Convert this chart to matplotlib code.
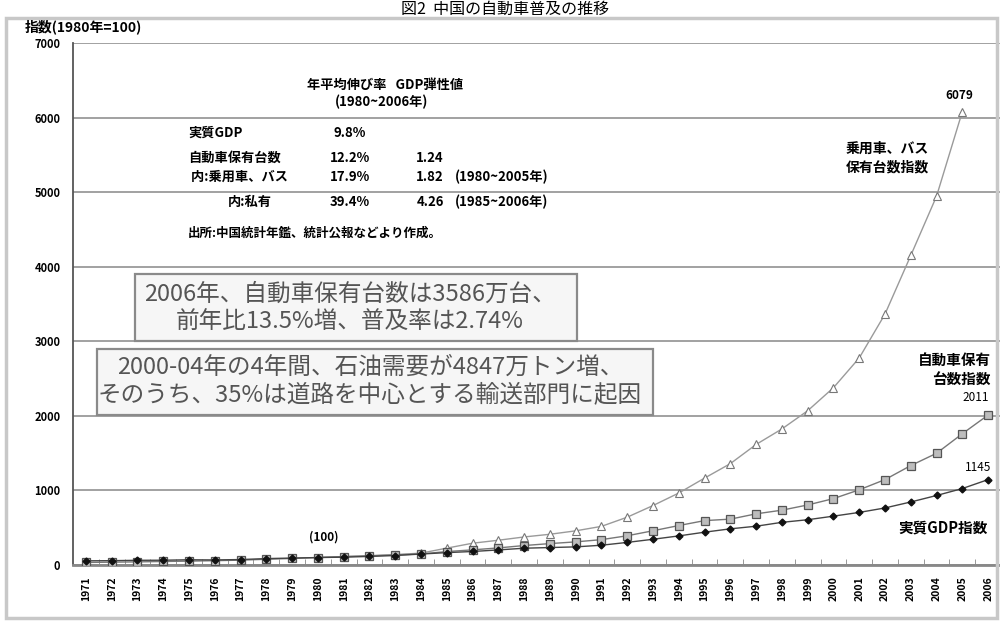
import numpy as np
import matplotlib
matplotlib.use("Agg")
import matplotlib.pyplot as plt
from matplotlib.patches import Rectangle

plt.rcParams['font.family'] = ['Noto Sans CJK JP', 'DejaVu Sans']

# Data: index, 1980 = 100
years = list(range(1971, 2007))
car_years = list(range(1980, 2006))

# 乗用車、バス保有台数指数 (1980-2005)
car_bus = [100, 113, 125, 140, 159, 226, 292, 332, 376, 412, 458, 518, 641, 797,
           965, 1165, 1359, 1616, 1824, 2068, 2377, 2776, 3364, 4150, 4945, 6079]

# 自動車保有台数指数 (1971-2006)
vehicles = [34, 38, 42, 47, 52, 58, 65, 77, 88, 100, 112, 122, 135, 148, 180, 203,
            229, 261, 287, 310, 340, 392, 459, 529, 595, 615, 686, 735, 805, 890,
            1008, 1145, 1333, 1498, 1760, 2011]

# 実質GDP指数 (1971-2006)
gdp = [56, 58, 63, 64, 70, 68, 73, 86, 93, 100, 105, 115, 127, 147, 166, 181,
       202, 225, 234, 243, 265, 303, 345, 390, 440, 485, 520, 572, 607, 655,
       705, 765, 845, 932, 1025, 1145]

table_rows = [
    ("実質GDP", "9.8%", "", ""),
    ("自動車保有台数", "12.2%", "1.24", ""),
    (" 内:乗用車、バス", "17.9%", "1.82", "(1980~2005年)"),
    ("内:私有", "39.4%", "4.26", "(1985~2006年)"),
]

W, H = 1000, 623


def px(x, y):
    return x / W, 1 - y / H


fig = plt.figure(figsize=(10, 6.23), dpi=100)
fig.patches.append(Rectangle(px(6, 618), 991 / W, 600 / H, transform=fig.transFigure,
                             fill=False, ec='#c8c8c8', lw=2.5))
fig.text(*px(505, 1), "図2  中国の自動車普及の推移", ha='center', va='top',
         fontsize=11.5)

ax = fig.add_axes([0.073, 0.0931, 0.928, 0.838])
ax.set_xlim(1970.5, 2006.5)
ax.set_ylim(0, 7000)
ax.set_yticks(range(0, 7001, 1000))
ax.set_yticklabels([str(v) for v in range(0, 7001, 1000)], fontsize=8, fontweight='bold')
ax.set_xticks(years)
ax.set_xticklabels([str(y) for y in years], rotation=90, fontsize=7.5, fontweight='bold')
ax.set_xticks([y + 0.5 for y in years[:-1]], minor=True)
ax.tick_params(axis='x', which='major', length=0, pad=8)
ax.tick_params(axis='x', which='minor', direction='in', length=4, color='#888')
ax.tick_params(axis='y', length=0, pad=9)
ax.yaxis.grid(True, color='#9a9a9a', lw=1.3)
ax.set_axisbelow(True)
for s in ['top', 'right']:
    ax.spines[s].set_visible(False)
ax.spines['left'].set_color('#555')
ax.spines['left'].set_linewidth(1.3)
ax.spines['bottom'].set_color('#888')
ax.spines['bottom'].set_linewidth(2)

ax.plot(car_years, car_bus, color='#9a9a9a', lw=1, marker='^', ms=5.5,
        mfc='white', mec='#777', mew=0.8, zorder=3)
ax.plot(years, vehicles, color='#777', lw=1, marker='s', ms=6,
        mfc='#bdbdbd', mec='#555', mew=0.9, zorder=4)
ax.plot(years, gdp, color='#444', lw=1, marker='D', ms=3.5,
        mfc='#111', mec='#111', zorder=5)

ax.annotate(str(car_bus[-1]), (car_years[-1], car_bus[-1]), xytext=(-2, 7),
            textcoords='offset points', ha='center', va='bottom', fontsize=8.5,
            fontweight='bold')
ax.annotate(str(vehicles[-1]), (years[-1], vehicles[-1]), xytext=(-9, 8),
            textcoords='offset points', ha='center', va='bottom', fontsize=8.5)
ax.annotate(str(gdp[-1]), (years[-1], gdp[-1]), xytext=(-7, 4),
            textcoords='offset points', ha='center', va='bottom', fontsize=8.5)
ax.annotate("(100)", (1980, 100), xytext=(4, 10), textcoords='offset points',
            ha='center', va='bottom', fontsize=8.5, fontweight='bold')

# series labels
fig.text(*px(887, 158), "乗用車、バス\n保有台数指数", ha='center', va='center',
         fontsize=10, fontweight='bold', linespacing=1.4)
fig.text(*px(991, 370), "自動車保有\n台数指数", ha='right', va='center',
         fontsize=10.5, fontweight='bold', linespacing=1.35)
fig.text(*px(943, 527), "実質GDP指数", ha='center', va='center',
         fontsize=10.5, fontweight='bold')

# growth table
fs = 9.5
fig.text(*px(385, 85), "年平均伸び率   GDP弾性値", ha='center', va='center',
         fontsize=fs, fontweight='bold')
fig.text(*px(382, 102), "(1980~2006年)", ha='center', va='center', fontsize=fs,
         fontweight='bold')
row_y = [133, 158, 177, 202]
for (name, rate, elas, period), y in zip(table_rows, row_y):
    if name.startswith("内:私"):
        fig.text(*px(250, y), name, ha='center', va='center', fontsize=fs, fontweight='bold')
    else:
        fig.text(*px(188, y), name, ha='left', va='center', fontsize=fs, fontweight='bold')
    fig.text(*px(350, y), rate, ha='center', va='center', fontsize=fs, fontweight='bold')
    if elas:
        fig.text(*px(430, y), elas, ha='center', va='center', fontsize=fs, fontweight='bold')
    if period:
        fig.text(*px(455, y), period, ha='left', va='center', fontsize=fs, fontweight='bold')
fig.text(*px(188, 233), "出所:中国統計年鑑、統計公報などより作成。", ha='left',
         va='center', fontsize=9, fontweight='bold')

# text boxes
for (x0, y0, x1, y1) in [(135, 274, 577, 341), (97, 349, 653, 415)]:
    fig.patches.append(Rectangle(px(x0, y1), (x1 - x0) / W, (y1 - y0) / H,
                                 transform=fig.transFigure, fc='#f6f6f6',
                                 ec='#8a8a8a', lw=1.6, zorder=6))
fig.text(*px(350, 308), "2006年、自動車保有台数は3586万台、\n前年比13.5%増、普及率は2.74%",
         ha='center', va='center', fontsize=17, color='#555', linespacing=1.3, zorder=7)
fig.text(*px(370, 381), "2000-04年の4年間、石油需要が4847万トン増、\nそのうち、35%は道路を中心とする輸送部門に起因",
         ha='center', va='center', fontsize=17, color='#555', linespacing=1.2, zorder=7)

fig.text(*px(25, 27), "指数(1980年=100)", ha='left', va='center', fontsize=10,
         fontweight='bold')

fig.savefig("out.png", dpi=100)
